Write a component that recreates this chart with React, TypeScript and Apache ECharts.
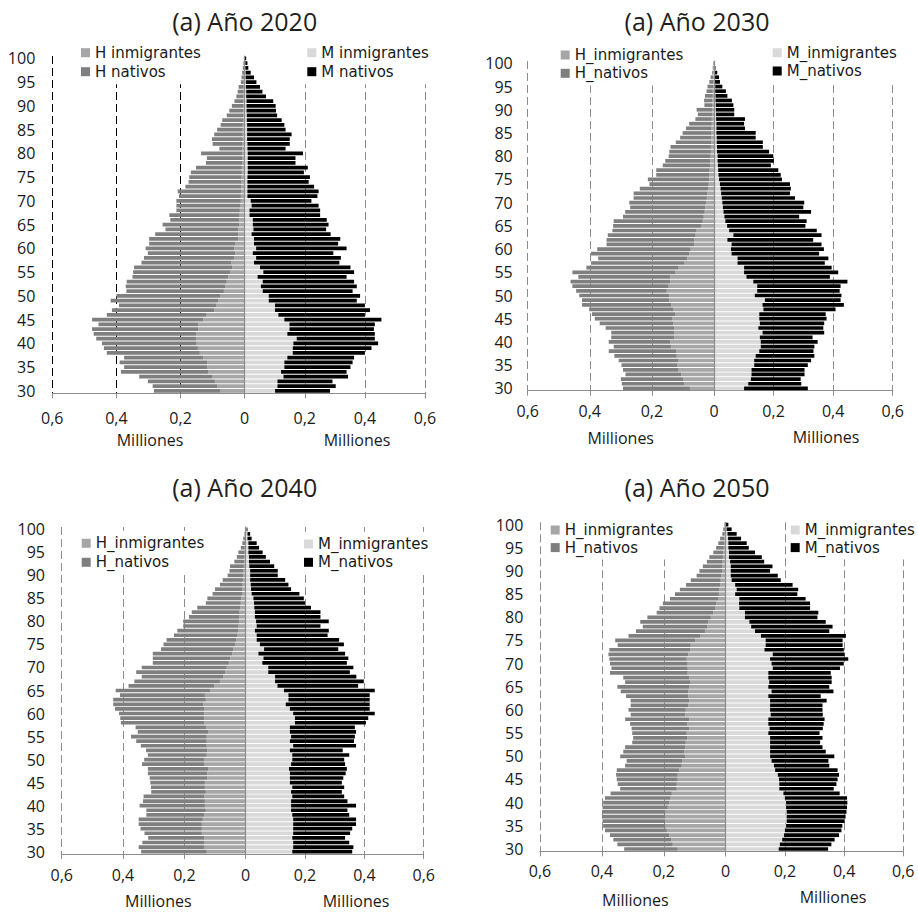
import React, { useEffect, useRef } from "react";
import * as echarts from "echarts";

// Age categories (bottom to top)
const ages = [
  "30","31","32","33","34","35","36","37","38","39",
  "40","41","42","43","44","45","46","47","48","49",
  "50","51","52","53","54","55","56","57","58","59",
  "60","61","62","63","64","65","66","67","68","69",
  "70","71","72","73","74","75","76","77","78","79",
  "80","81","82","83","84","85","86","87","88","89",
  "90","91","92","93","94","95","96","97","98","99",
  "100",
];

const titles = ["(a) Año 2020", "(a) Año 2030", "(a) Año 2040", "(a) Año 2050"];
const axisName = "Milliones";

// Values in thousands of people, ages 30..100
// ---------- 2020 ----------
const h2020Inm = [77,86,93,102,114,117,117,129,140,146, 150,152,152,145,145,129,119,95,88,82, 77,65,60,56,51,46,39,41,32,29, 32,30,20,20,20,17,17,16,15,14, 12,12,11,11,10,10,9,9,8,8, 8,7,7,6,6,6,6,5,5,5, 5,4,4,3,3,3,2,2,2,1, 1];
const h2020Nat = [206,201,209,227,272,259,273,247,290,293, 295,311,319,331,311,347,311,319,304,336, 323,304,311,312,299,302,306,281,282,273, 277,268,278,259,227,239,215,219,198,199, 201,193,198,174,165,163,159,143,113,110, 128,72,93,96,89,80,69,65,51,43, 35,28,22,19,16,9,8,6,4,3, 1];
const m2020Inm = [101,109,109,129,121,132,132,142,160,160, 162,173,142,149,149,132,112,101,101,80, 80,60,54,60,43,62,51,31,38,27, 38,31,31,23,29,27,27,16,16,23, 20,9,9,9,9,9,10,10,10,10, 10,9,9,8,8,8,8,7,7,6, 6,6,5,5,4,4,3,3,2,2, 1];
const m2020Nat = [183,194,183,215,218,220,227,222,240,262, 282,260,291,281,284,323,288,316,299,293, 304,299,319,304,296,302,301,284,282,268, 301,280,287,263,242,252,246,235,235,223, 202,233,237,222,204,208,187,200,159,159, 184,127,141,142,148,128,124,116,101,98, 97,89,66,54,47,35,28,17,10,7, 4];

// ---------- 2030 ----------
const h2030Inm = [77,95,98,106,114,118,114,120,122,138, 141,128,128,128,132,135,125,132,138,144, 144,152,146,141,141,125,114,95,86,80, 75,64,64,59,56,42,36,33,30,28, 26,23,21,19,17,16,15,14,13,12, 11,10,10,9,9,8,8,7,7,6, 6,5,5,4,4,3,3,2,2,1, 1];
const h2030Nat = [216,202,202,179,179,180,193,201,217,185, 198,203,203,221,236,249,268,270,287,281, 290,292,310,321,296,331,297,301,287,316, 301,282,282,283,271,283,287,260,256,242, 247,236,238,220,191,197,171,172,152,145, 135,134,130,114,100,93,82,73,53,46, 50,26,27,25,20,18,12,9,4,3, 2];
const m2030Inm = [101,115,124,126,126,135,135,140,152,157, 157,154,163,149,154,152,152,166,163,171, 137,145,145,132,109,101,101,79,79,59, 57,59,45,65,51,44,38,35,32,30, 28,26,24,22,20,17,15,14,13,12, 12,10,10,9,9,8,8,8,7,7, 6,6,5,5,4,4,3,3,2,2, 1];
const m2030Nat = [214,178,167,178,178,180,191,197,182,180, 191,177,207,218,216,226,223,242,273,254, 291,277,280,316,280,316,294,293,305,294, 312,302,288,296,294,263,273,251,294,270, 275,246,231,236,235,211,209,202,178,189, 187,175,154,155,131,132,96,93,97,61, 62,59,55,40,36,24,17,14,9,3, 1];

// ---------- 2040 ----------
const h2040Inm = [127,136,136,136,143,143,143,140,136,130, 133,133,136,130,133,133,125,125,122,136, 136,127,125,127,127,127,121,129,135,135, 135,136,138,130,133,116,102,84,73,67, 62,55,50,44,40,35,30,28,25,23, 22,21,20,18,16,14,12,11,10,9, 8,7,6,5,4,3,3,2,2,1, 1];
const h2040Nat = [214,213,201,182,187,200,206,209,188,194, 213,202,197,178,176,178,188,194,197,202, 195,192,200,215,230,247,231,230,272,274, 278,290,294,302,277,308,280,279,266,290, 277,248,253,259,236,233,228,206,198,181, 182,164,156,140,114,111,96,89,74,66, 51,46,45,32,25,21,13,9,6,3, 1];
const m2040Inm = [157,160,160,157,160,160,160,160,157,153, 153,153,157,153,157,149,149,149,146,153, 157,157,149,160,149,153,149,149,166,166, 160,149,135,144,144,129,107,99,99,76, 76,56,60,43,62,48,37,37,31,37, 35,31,31,29,28,26,20,18,17,15, 15,15,12,11,11,9,9,9,6,6, 3];
const m2040Nat = [202,203,189,178,192,199,212,212,192,190, 219,190,175,171,175,175,180,188,195,182, 175,192,178,212,216,215,223,219,239,247, 275,269,283,274,274,306,272,299,274,275, 287,285,286,292,250,283,278,239,249,215, 245,221,221,191,172,170,161,135,127,118, 93,93,84,71,57,48,36,28,14,9, 3];

// ---------- 2050 ----------
const h2050Inm = [155,171,176,182,190,194,196,194,194,187, 183,178,174,158,158,155,155,151,142,140, 131,134,131,129,124,126,118,124,118,131, 129,121,118,121,121,118,115,118,123,123, 123,126,121,115,113,99,83,67,59,56, 48,40,34,31,23,22,20,18,16,14, 12,11,10,9,8,6,5,4,3,2, 1];
const h2050Nat = [173,179,187,192,200,202,202,206,205,211, 213,212,198,183,191,197,199,201,183,180, 210,197,194,173,175,176,186,185,207,176, 185,186,189,201,218,232,210,213,251,246, 251,250,258,261,236,258,231,223,209,220, 205,183,180,172,157,142,128,110,97,80, 73,63,51,44,32,25,19,14,8,6, 3];
const m2050Inm = [179,183,191,197,200,204,206,206,206,204, 204,200,195,181,181,180,176,167,163,155, 150,150,150,150,150,144,148,144,144,152, 150,150,150,144,155,144,147,144,144,159, 155,150,159,131,135,135,119,99,86,80, 65,65,46,45,46,32,37,32,20,17, 17,17,15,11,11,9,9,8,6,3, 1];
const m2050Nat = [167,174,177,186,191,190,196,199,202,206, 207,210,190,184,193,198,207,211,187,192, 217,188,177,169,177,173,180,187,190,176, 177,177,191,177,209,206,211,214,211,227, 244,264,243,268,260,260,287,251,275,258, 245,248,239,240,224,210,208,194,166,159, 133,141,115,111,88,69,62,44,31,17, 8];

const namesA = ["H inmigrantes", "H nativos", "M inmigrantes", "M nativos"];
const namesB = ["H_inmigrantes", "H_nativos", "M_inmigrantes", "M_nativos"];

const panelData = [
  { hInm: h2020Inm, hNat: h2020Nat, mInm: m2020Inm, mNat: m2020Nat, names: namesA },
  { hInm: h2030Inm, hNat: h2030Nat, mInm: m2030Inm, mNat: m2030Nat, names: namesB },
  { hInm: h2040Inm, hNat: h2040Nat, mInm: m2040Inm, mNat: m2040Nat, names: namesB },
  { hInm: h2050Inm, hNat: h2050Nat, mInm: m2050Inm, mNat: m2050Nat, names: namesB },
];

// Layout (pixels). leg: [left, top, rowHeight]
const layouts = [
  { lx: 52.3, cx: 244.7, rx: 425, top: 56, bottom: 393.3, yMargin: 17, xMargin: 16.5,
    title: [244.7, 21], mil: [[150, 440], [357, 440]],
    legH: [78, 40.2, 19], legM: [304.3, 40.2, 19], leftSplit: "#000" },
  { lx: 527.7, cx: 714, rx: 892.7, top: 61, bottom: 390.7, yMargin: 15, xMargin: 12.6,
    title: [697, 21], mil: [[620.7, 438.3], [826, 437.3]],
    legH: [557.7, 42.85, 18.3], legM: [769.7, 40.55, 18.3], leftSplit: "#8c8c8c" },
  { lx: 61.7, cx: 245.7, rx: 423.7, top: 527, bottom: 854, yMargin: 16.7, xMargin: 12.7,
    title: [244.7, 487], mil: [[158.3, 900.5], [356, 900.5]],
    legH: [78.7, 530.8, 19], legM: [301, 531.85, 18.3], leftSplit: "#8c8c8c" },
  { lx: 540, cx: 725.7, rx: 903.3, top: 522.3, bottom: 851.3, yMargin: 16.7, xMargin: 12,
    title: [697, 486.5], mil: [[635.3, 899.5], [833, 896.7]],
    legH: [547.7, 518.2, 17.6], legM: [787.7, 518.2, 17.6], leftSplit: "#8c8c8c" },
];

const FONT = '"Open Sans", "Noto Sans", sans-serif';
const LEG_FONT = '"DejaVu Sans", "Open Sans", sans-serif';
const TXT = "#1a1a1a";
const AXIS = "#8c8c8c";
const C_HI = "#a6a6a6";
const C_HN = "#7f7f7f";
const C_MI = "#d9d9d9";
const C_MN = "#000000";

function fmt(v: number) {
  if (v === 0) return "0";
  return String(v / 1000).replace(".", ",");
}

function buildOption() {
  const grid: any[] = [];
  const xAxis: any[] = [];
  const yAxis: any[] = [];
  const series: any[] = [];
  const legend: any[] = [];
  const graphic: any[] = [];

  layouts.forEach((L, i) => {
    const D = panelData[i];
    const h = L.bottom - L.top;
    grid.push({ left: L.lx, top: L.top, width: L.cx - L.lx, height: h });
    grid.push({ left: L.cx, top: L.top, width: L.rx - L.cx, height: h });
    const gl = 2 * i;
    const gr = 2 * i + 1;

    const xBase = (inverse: boolean, splitColor: string, gridIndex: number) => ({
      gridIndex,
      type: "value",
      inverse,
      min: 0,
      max: 600,
      interval: 200,
      axisLine: { show: true, lineStyle: { color: AXIS, width: 1 } },
      axisTick: { show: true, length: 5, lineStyle: { color: AXIS } },
      axisLabel: {
        margin: L.xMargin,
        fontSize: 16,
        fontFamily: FONT,
        color: TXT,
        formatter: (v: number) => (inverse ? fmt(v) : v === 0 ? "" : fmt(v)),
      },
      splitLine: {
        show: true,
        showMinLine: false,
        lineStyle: { type: [8, 4], color: splitColor, width: 1 },
      },
    });
    xAxis.push(xBase(true, L.leftSplit, gl));
    xAxis.push(xBase(false, AXIS, gr));

    yAxis.push({
      gridIndex: gl,
      type: "category",
      data: ages,
      axisLine: { show: false },
      axisTick: { show: false },
      splitLine: { show: false },
      axisLabel: {
        interval: 4,
        margin: L.yMargin,
        fontSize: 16,
        fontFamily: FONT,
        color: TXT,
      },
    });
    yAxis.push({
      gridIndex: gr,
      type: "category",
      data: ages,
      z: 5,
      axisLine: { show: true, onZero: false, lineStyle: { color: AXIS, width: 1.2 } },
      axisTick: { show: false },
      splitLine: { show: false },
      axisLabel: { show: false },
    });

    const bar = (name: string, data: number[], color: string, gi: number, stack: string) => ({
      type: "bar",
      name,
      xAxisIndex: gi,
      yAxisIndex: gi,
      stack,
      data,
      barCategoryGap: "20%",
      itemStyle: { color },
      emphasis: { disabled: true },
    });
    series.push(bar(D.names[0], D.hInm, C_HI, gl, "h" + i));
    series.push(bar(D.names[1], D.hNat, C_HN, gl, "h" + i));
    series.push(bar(D.names[2], D.mInm, C_MI, gr, "m" + i));
    series.push(bar(D.names[3], D.mNat, C_MN, gr, "m" + i));

    const leg = (cfg: number[], names: string[]) => ({
      orient: "vertical",
      left: cfg[0],
      top: cfg[1],
      itemGap: 0,
      itemWidth: 9,
      itemHeight: 9,
      icon: "rect",
      padding: 3,
      backgroundColor: "#ffffff",
      selectedMode: false,
      textStyle: { fontSize: 15, fontFamily: LEG_FONT, color: TXT, lineHeight: cfg[2] },
      data: names,
    });
    legend.push(leg(L.legH, [D.names[0], D.names[1]]));
    legend.push(leg(L.legM, [D.names[2], D.names[3]]));

    graphic.push({
      type: "text",
      x: L.title[0],
      y: L.title[1],
      style: {
        text: titles[i],
        fontSize: 25,
        fontFamily: FONT,
        fill: "#231f20",
        align: "center",
        verticalAlign: "middle",
      },
    });
    L.mil.forEach((p) => {
      graphic.push({
        type: "text",
        x: p[0],
        y: p[1],
        style: {
          text: axisName,
          fontSize: 16,
          fontFamily: FONT,
          fill: TXT,
          align: "center",
          verticalAlign: "middle",
        },
      });
    });
  });

  return {
    animation: false,
    backgroundColor: "#ffffff",
    grid,
    xAxis,
    yAxis,
    series,
    legend,
    graphic,
  };
}

export default function App() {
  const ref = useRef<HTMLDivElement | null>(null);
  useEffect(() => {
    if (!ref.current) return;
    const chart = echarts.init(ref.current, undefined, { renderer: "svg" });
    chart.setOption(buildOption() as any);
    return () => chart.dispose();
  }, []);
  return (
    <div
      ref={ref}
      style={{ position: "absolute", left: 0, top: 0, width: 918, height: 912, background: "#fff" }}
    />
  );
}
